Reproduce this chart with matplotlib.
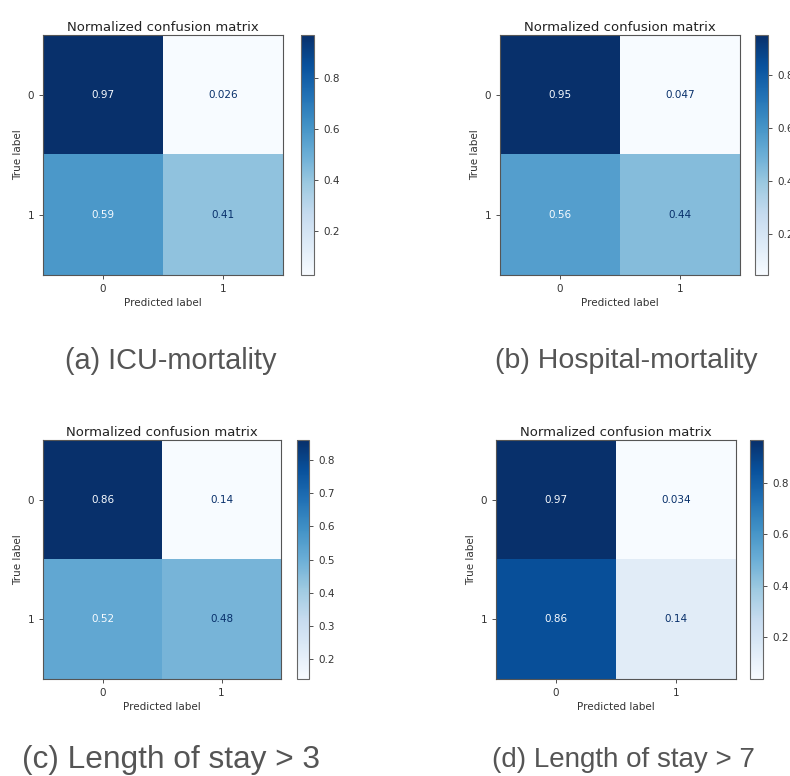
import numpy as np
import matplotlib
matplotlib.use("Agg")
import matplotlib.pyplot as plt

W, H = 790, 776
labels = ["0", "1"]
captions = ["(a) ICU-mortality", "(b) Hospital-mortality",
            "(c) Length of stay > 3", "(d) Length of stay > 7"]
cm_a = [[0.97, 0.026], [0.59, 0.41]]
cm_b = [[0.95, 0.047], [0.56, 0.44]]
cm_c = [[0.86, 0.14], [0.52, 0.48]]
cm_d = [[0.97, 0.034], [0.86, 0.14]]
texts_a = [["0.97", "0.026"], ["0.59", "0.41"]]
texts_b = [["0.95", "0.047"], ["0.56", "0.44"]]
texts_c = [["0.86", "0.14"], ["0.52", "0.48"]]
texts_d = [["0.97", "0.034"], ["0.86", "0.14"]]

# layout in pixels: (matrix left, top, right, bottom, cbar left, cbar right,
#                    caption x, caption y, caption font size)
layouts = [
    (43, 35, 283, 275, 301, 314, 171, 361, 20.8),
    (500, 35, 740, 275, 755, 768, 626, 361, 20.5),
    (43, 440, 281, 679, 297, 309, 171, 760, 22.8),
    (496, 440, 736, 679, 750, 763, 623, 760, 20.0),
]

fig = plt.figure(figsize=(W / 100, H / 100), dpi=100)
cmap = plt.get_cmap("Blues")

def pax(l, t, r, b):
    return fig.add_axes([l / W, 1 - b / H, (r - l) / W, (b - t) / H])

for cm, txt, lay, cap in zip([cm_a, cm_b, cm_c, cm_d],
                             [texts_a, texts_b, texts_c, texts_d], layouts, captions):
    l, t, r, b, cl, cr, cx, cy, cfs = lay
    ax = pax(l, t, r, b)
    arr = np.array(cm)
    im = ax.imshow(arr, cmap=cmap, aspect="auto", interpolation="nearest")
    vmin, vmax = arr.min(), arr.max()
    thresh = (vmin + vmax) / 2
    for i in range(2):
        for j in range(2):
            c = cmap(0) if arr[i, j] > thresh else cmap(1.0)
            ax.text(j, i, txt[i][j], ha="center", va="center", color=c, fontsize=7.5)
    ax.set_xticks(range(2))
    ax.set_yticks(range(2))
    ax.set_xticklabels(labels, fontsize=7.5, color="#333333")
    ax.set_yticklabels(labels, fontsize=7.5, color="#333333")
    ax.tick_params(length=3, width=0.6, colors="#333333")
    ax.set_xlabel("Predicted label", fontsize=7.5, color="#333333", labelpad=3)
    ax.set_ylabel("True label", fontsize=7.5, color="#333333", labelpad=3)
    ax.set_title("Normalized confusion matrix", fontsize=9.5, color="#222222", pad=3)
    for s in ax.spines.values():
        s.set_color("#555555")
        s.set_linewidth(0.8)
    cax = pax(cl, t, cr, b)
    cb = fig.colorbar(im, cax=cax)
    cb.ax.tick_params(labelsize=7.5, length=3, width=0.6, colors="#333333")
    cb.outline.set_edgecolor("#666666")
    cb.outline.set_linewidth(0.8)
    fig.text(cx / W, 1 - cy / H, cap, ha="center", va="center", fontsize=cfs,
             color="#555555", family="Liberation Sans")

fig.savefig("out.png", dpi=100)
